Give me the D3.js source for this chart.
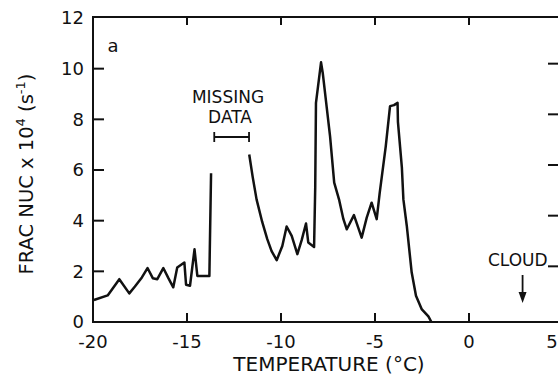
<!DOCTYPE html>
<html>
<head>
<meta charset="utf-8">
<script src="https://cdn.jsdelivr.net/npm/d3@7"></script>
<style>
  body { margin: 0; background: #fff; }
  text { font-family: "DejaVu Sans", sans-serif; fill: #111; }
</style>
</head>
<body>
<div id="chart"></div>
<script>
// temperature (deg C) / frac nuc (x1e4 s^-1)
const segment1T = [-19.95, -19.22, -18.6, -18.07, -17.77, -17.4, -17.1, -16.82, -16.58, -16.26,
  -15.99, -15.73, -15.52, -15.14, -15.05, -14.84, -14.6, -14.45, -13.81, -13.72];
const segment1V = [0.87, 1.05, 1.69, 1.13, 1.40, 1.76, 2.13, 1.73, 1.69, 2.13,
  1.73, 1.37, 2.15, 2.35, 1.47, 1.43, 2.87, 1.82, 1.82, 5.87];

const segment2T = [-11.69, -11.5, -11.3, -11.0, -10.73, -10.5, -10.23, -9.93, -9.7, -9.43,
  -9.13, -8.9, -8.67, -8.55, -8.24, -8.18, -8.14, -7.87, -7.78, -7.39,
  -7.17, -6.9, -6.68, -6.5, -6.12, -5.71, -5.44, -5.18, -4.91, -4.75,
  -4.43, -4.2, -3.99, -3.8, -3.78, -3.57, -3.49, -3.31, -3.05, -2.82,
  -2.52, -2.16, -2.0];
const segment2V = [6.61, 5.7, 4.84, 3.95, 3.27, 2.8, 2.44, 3.0, 3.77, 3.40,
  2.68, 3.23, 3.89, 3.14, 2.96, 5.3, 8.65, 10.25, 9.83, 7.33,
  5.5, 4.8, 4.06, 3.66, 4.22, 3.33, 4.12, 4.71, 4.06, 5.1,
  6.92, 8.52, 8.56, 8.65, 7.9, 6.09, 4.84, 3.8, 1.96, 1.04,
  0.51, 0.22, 0];

const xTicks = [-20, -15, -10, -5, 0, 5];
const yTicks = [0, 2, 4, 6, 8, 10, 12];
const missingRange = [-13.55, -11.7];
const cloudT = 2.85;

const width = 558, height = 377;
const x = d3.scaleLinear().domain([-20, 5]).range([93, 563]);
const y = d3.scaleLinear().domain([0, 12]).range([322, 18]);

const svg = d3.select('#chart').append('svg')
  .attr('width', width)
  .attr('height', height);

// frame
svg.append('path')
  .attr('d', `M${x(5)},${y(12) - 1}H${x(-20)}V${y(0)}H${x(5)}`)
  .attr('fill', 'none')
  .attr('stroke', '#111')
  .attr('stroke-width', 2);

// inward ticks
const inner = xTicks.filter(t => t > -20 && t < 5);
svg.append('g').selectAll('line').data(inner).join('line')
  .attr('x1', d => x(d)).attr('x2', d => x(d))
  .attr('y1', y(0)).attr('y2', y(0) - 9)
  .attr('stroke', '#111').attr('stroke-width', 2);
svg.append('g').selectAll('line').data(inner).join('line')
  .attr('x1', d => x(d)).attr('x2', d => x(d))
  .attr('y1', y(12) - 1).attr('y2', y(12) + 7)
  .attr('stroke', '#111').attr('stroke-width', 2);
svg.append('g').selectAll('line').data(yTicks.slice(1, -1)).join('line')
  .attr('x1', x(-20)).attr('x2', x(-20) + 11)
  .attr('y1', d => y(d)).attr('y2', d => y(d))
  .attr('stroke', '#111').attr('stroke-width', 2);
svg.append('g').selectAll('line').data(yTicks.slice(1, -1)).join('line')
  .attr('x1', x(5)).attr('x2', x(5) - 15)
  .attr('y1', d => y(d) - 5).attr('y2', d => y(d) - 5)
  .attr('stroke', '#111').attr('stroke-width', 2);

// tick labels
svg.append('g').selectAll('text').data(yTicks).join('text')
  .attr('x', 84)
  .attr('y', d => y(d))
  .attr('dy', '0.36em')
  .attr('text-anchor', 'end')
  .attr('font-size', 18)
  .text(d => d);
svg.append('g').selectAll('text').data(xTicks).join('text')
  .attr('x', d => Math.min(x(d), 552))
  .attr('y', 348)
  .attr('text-anchor', 'middle')
  .attr('font-size', 18)
  .text(d => d < 0 ? '-' + Math.abs(d) : d);

// axis titles
svg.append('text')
  .attr('x', 329).attr('y', 371)
  .attr('text-anchor', 'middle')
  .attr('font-size', 20)
  .text('TEMPERATURE (°C)');

const yt = svg.append('text')
  .attr('transform', 'translate(33,174) rotate(-90)')
  .attr('text-anchor', 'middle')
  .attr('font-size', 19.5);
yt.append('tspan').text('FRAC NUC x 10');
yt.append('tspan').attr('font-size', 13).attr('dy', -8).text('4');
yt.append('tspan').attr('dy', 8).text(' (s');
yt.append('tspan').attr('font-size', 13).attr('dy', -8).text('-1');
yt.append('tspan').attr('dy', 8).text(')');

// data
const line = d3.line().x(d => x(d[0])).y(d => y(d[1]));
[[segment1T, segment1V], [segment2T, segment2V]].forEach(([ts, vs]) => {
  svg.append('path')
    .datum(ts.map((t, i) => [t, vs[i]]))
    .attr('d', line)
    .attr('fill', 'none')
    .attr('stroke', '#111')
    .attr('stroke-width', 2.5)
    .attr('stroke-linejoin', 'round');
});

// annotations
svg.append('text').attr('x', 113).attr('y', 52).attr('text-anchor', 'middle')
  .attr('font-size', 18).text('a');

svg.append('text').attr('x', 228).attr('y', 103).attr('text-anchor', 'middle')
  .attr('font-size', 17).text('MISSING');
svg.append('text').attr('x', 230).attr('y', 123).attr('text-anchor', 'middle')
  .attr('font-size', 17).text('DATA');
const my = 137;
svg.append('path')
  .attr('d', `M${x(missingRange[0])},${my}H${x(missingRange[1])}` +
    `M${x(missingRange[0])},${my - 5}V${my + 5}M${x(missingRange[1])},${my - 5}V${my + 5}`)
  .attr('stroke', '#111').attr('stroke-width', 1.8).attr('fill', 'none');

svg.append('text').attr('x', 488).attr('y', 266)
  .attr('font-size', 17).text('CLOUD');
svg.append('line')
  .attr('x1', x(cloudT)).attr('x2', x(cloudT))
  .attr('y1', 275).attr('y2', 298)
  .attr('stroke', '#111').attr('stroke-width', 1.8);
svg.append('path')
  .attr('d', `M${x(cloudT) - 4},${292}L${x(cloudT)},${303}L${x(cloudT) + 4},${292}Z`)
  .attr('fill', '#111');
</script>
</body>
</html>
